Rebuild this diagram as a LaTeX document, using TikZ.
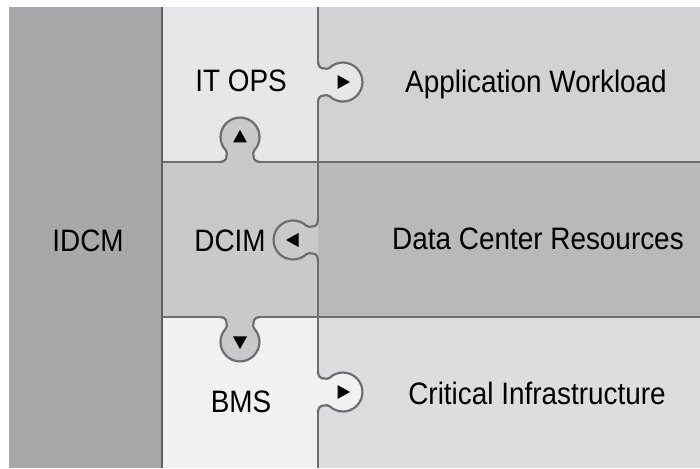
\documentclass[tikz,border=0pt]{standalone}
\usepackage{fontspec}
\setmainfont{Liberation Sans}[FakeStretch=0.9]
\definecolor{cidcm}{HTML}{A7A8AA}
\definecolor{citops}{HTML}{E6E7E8}
\definecolor{capp}{HTML}{D1D2D4}
\definecolor{cdcim}{HTML}{C8C9CB}
\definecolor{cdcr}{HTML}{B8B9BB}
\definecolor{cbms}{HTML}{F1F1F1}
\definecolor{ccrit}{HTML}{DCDDDF}
\definecolor{linegray}{HTML}{6D6E70}
\definecolor{darkline}{HTML}{5E5F61}
\tikzset{
  lbl/.style={font=\fontsize{31}{37}\selectfont, text=black, anchor=base, inner sep=0pt},
  divline/.style={draw=linegray, line width=2.2pt},
  knobline/.style={draw=linegray, line width=2.2pt},
  pics/knob/.style={code={
    \fill[#1] (0,21) .. controls (0,16) and (2,13.5) .. (6,13.5)
       .. controls (8,13.5) and (10,12.65) .. (11.4,14)
       arc[start angle=134,end angle=-134,radius=19.5pt]
       .. controls (10,-12.65) and (8,-13.5) .. (6,-13.5)
       .. controls (2,-13.5) and (0,-16) .. (0,-21) -- cycle;
    \draw[knobline] (0,21) .. controls (0,16) and (2,13.5) .. (6,13.5)
       .. controls (8,13.5) and (10,12.65) .. (11.4,14)
       arc[start angle=134,end angle=-134,radius=19.5pt]
       .. controls (10,-12.65) and (8,-13.5) .. (6,-13.5)
       .. controls (2,-13.5) and (0,-16) .. (0,-21);
    \fill[black] (19.5,7) -- (32,0) -- (19.5,-7) -- cycle;
  }}
}
\begin{document}
\begin{tikzpicture}[x=1pt,y=1pt]
\useasboundingbox (0,0) rectangle (700,468);
% cells
\fill[cidcm] (9,0) rectangle (162,461);
\fill[citops] (162,306) rectangle (318,461);
\fill[capp] (318,306) rectangle (700,461);
\fill[cdcim] (162,151) rectangle (318,306);
\fill[cdcr] (318,151) rectangle (700,306);
\fill[cbms] (162,0) rectangle (318,151);
\fill[ccrit] (318,0) rectangle (700,151);
% dividing lines
\draw[divline] (318,461) -- (318,407);
\draw[divline] (318,365) -- (318,249);
\draw[divline] (318,207) -- (318,97);
\draw[divline] (318,55) -- (318,0);
\draw[divline] (162,306) -- (219,306);
\draw[divline] (261,306) -- (700,306);
\draw[divline] (162,151) -- (219,151);
\draw[divline] (261,151) -- (700,151);
\draw[draw=darkline, line width=2.6pt] (162,0) -- (162,461);
% puzzle knobs
\pic (k1) at (318,386) {knob=citops};
\pic[rotate=90] (k2) at (240,306) {knob=cdcim};
\pic[rotate=180] (k3) at (318,228) {knob=cdcim};
\pic[rotate=-90] (k4) at (240,151) {knob=cdcim};
\pic (k5) at (318,76) {knob=cbms};
% labels
\node[lbl] (idcm) at (88,216) {IDCM};
\node[lbl] (itops) at (241,376) {IT OPS};
\node[lbl] (dcim) at (230,216) {DCIM};
\node[lbl] (bms) at (241,56) {BMS};
\node[lbl] (app) at (536,375) {Application Workload};
\node[lbl] (dcr) at (538,218) {Data Center Resources};
\node[lbl] (crit) at (537,64) {Critical Infrastructure};
\end{tikzpicture}
\end{document}
